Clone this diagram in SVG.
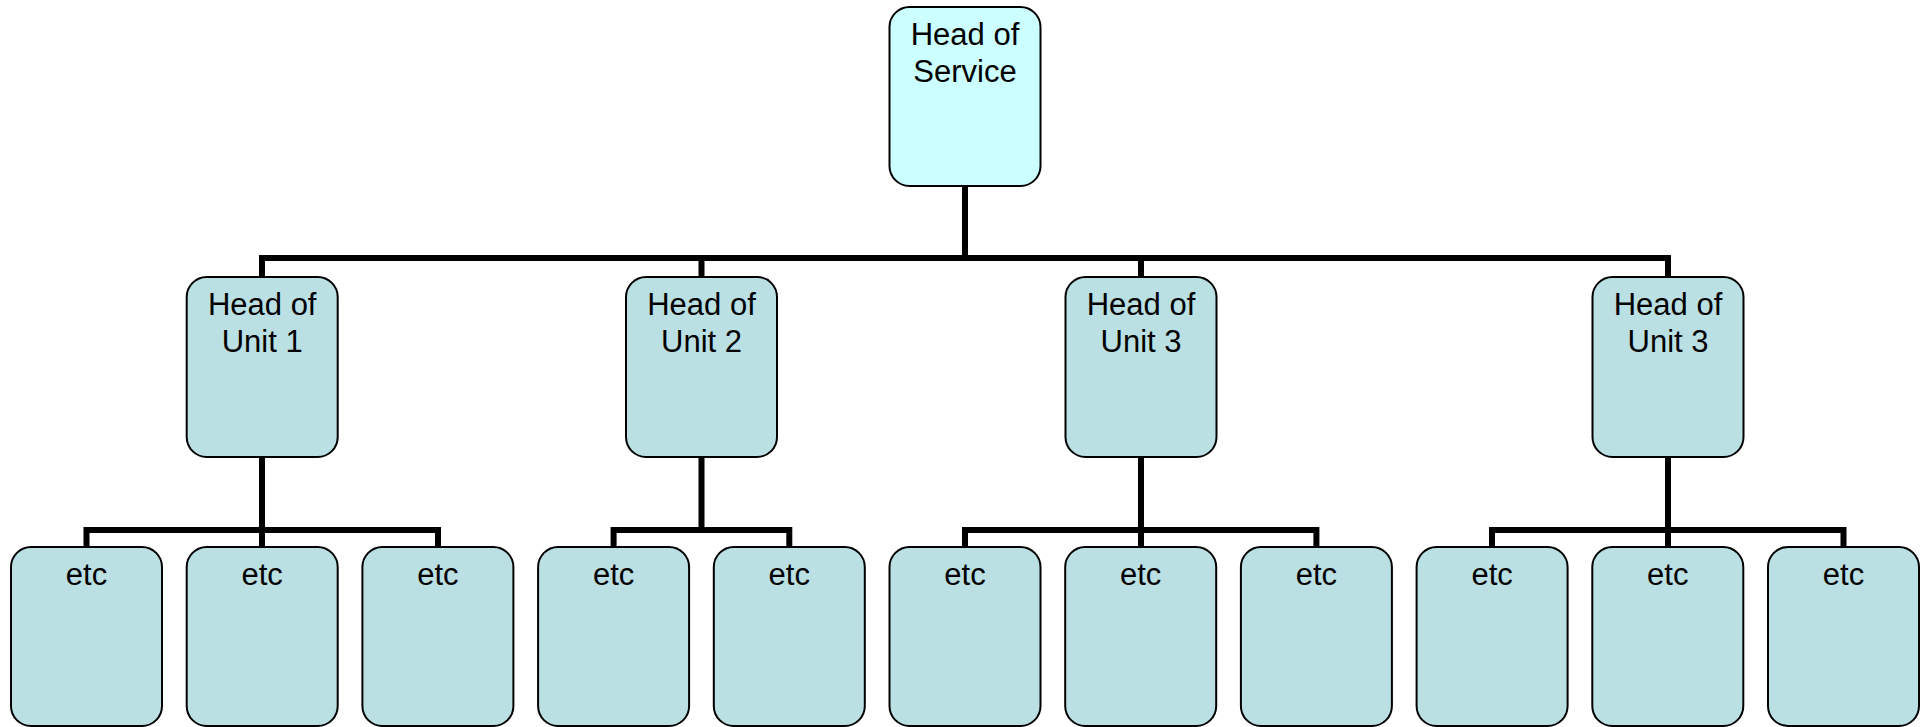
<svg xmlns="http://www.w3.org/2000/svg" width="1925" height="727" viewBox="0 0 1925 727">
  <style>
    .box { stroke: #000; stroke-width: 2; }
    .top { fill: #CCFFFF; }
    .unit { fill: #BBE0E3; }
    .lbl { font-family: "Liberation Sans", Arial, sans-serif; font-size: 31px; fill: #000; text-anchor: middle; }
    .wire { fill: none; stroke: #000; stroke-width: 6; stroke-linecap: butt; stroke-linejoin: miter; }
  </style>
  <rect width="1925" height="727" fill="#fff"/>

  <!-- connectors -->
  <g id="connectors" class="wire">
    <path d="M965 186 V258"/>
    <path d="M262 277 V258 H1668 V277"/>
    <path d="M701.5 258 V277"/>
    <path d="M1141 258 V277"/>
    <!-- unit 1 -->
    <path d="M262 457 V547"/>
    <path d="M86.5 547 V530 H438 V547"/>
    <!-- unit 2 -->
    <path d="M701.5 457 V530"/>
    <path d="M613.6 547 V530 H789.3 V547"/>
    <!-- unit 3 -->
    <path d="M1141 457 V547"/>
    <path d="M965 547 V530 H1316.4 V547"/>
    <!-- unit 3 (second) -->
    <path d="M1668 457 V547"/>
    <path d="M1492 547 V530 H1843.5 V547"/>
  </g>

  <g id="head-of-service">
    <rect class="box top" x="889.5" y="7" width="151" height="179" rx="20"/>
    <text class="lbl" x="965" y="45">Head of</text>
    <text class="lbl" x="965" y="82">Service</text>
  </g>

  <g id="unit-1">
    <rect class="box unit" x="186.7" y="277" width="151" height="180" rx="20"/>
    <text class="lbl" x="262.2" y="315">Head of</text>
    <text class="lbl" x="262.2" y="352">Unit 1</text>
  </g>
  <g id="unit-2">
    <rect class="box unit" x="626" y="277" width="151" height="180" rx="20"/>
    <text class="lbl" x="701.5" y="315">Head of</text>
    <text class="lbl" x="701.5" y="352">Unit 2</text>
  </g>
  <g id="unit-3">
    <rect class="box unit" x="1065.5" y="277" width="151" height="180" rx="20"/>
    <text class="lbl" x="1141" y="315">Head of</text>
    <text class="lbl" x="1141" y="352">Unit 3</text>
  </g>
  <g id="unit-3b">
    <rect class="box unit" x="1592.5" y="277" width="151" height="180" rx="20"/>
    <text class="lbl" x="1668" y="315">Head of</text>
    <text class="lbl" x="1668" y="352">Unit 3</text>
  </g>

  <g id="etc-1"><rect class="box unit" x="11" y="547" width="151" height="179" rx="20"/><text class="lbl" x="86.5" y="585">etc</text></g>
  <g id="etc-2"><rect class="box unit" x="186.7" y="547" width="151" height="179" rx="20"/><text class="lbl" x="262.2" y="585">etc</text></g>
  <g id="etc-3"><rect class="box unit" x="362.4" y="547" width="151" height="179" rx="20"/><text class="lbl" x="437.9" y="585">etc</text></g>
  <g id="etc-4"><rect class="box unit" x="538.1" y="547" width="151" height="179" rx="20"/><text class="lbl" x="613.6" y="585">etc</text></g>
  <g id="etc-5"><rect class="box unit" x="713.8" y="547" width="151" height="179" rx="20"/><text class="lbl" x="789.3" y="585">etc</text></g>
  <g id="etc-6"><rect class="box unit" x="889.5" y="547" width="151" height="179" rx="20"/><text class="lbl" x="965" y="585">etc</text></g>
  <g id="etc-7"><rect class="box unit" x="1065.2" y="547" width="151" height="179" rx="20"/><text class="lbl" x="1140.7" y="585">etc</text></g>
  <g id="etc-8"><rect class="box unit" x="1240.9" y="547" width="151" height="179" rx="20"/><text class="lbl" x="1316.4" y="585">etc</text></g>
  <g id="etc-9"><rect class="box unit" x="1416.6" y="547" width="151" height="179" rx="20"/><text class="lbl" x="1492.1" y="585">etc</text></g>
  <g id="etc-10"><rect class="box unit" x="1592.3" y="547" width="151" height="179" rx="20"/><text class="lbl" x="1667.8" y="585">etc</text></g>
  <g id="etc-11"><rect class="box unit" x="1768" y="547" width="151" height="179" rx="20"/><text class="lbl" x="1843.5" y="585">etc</text></g>
</svg>
